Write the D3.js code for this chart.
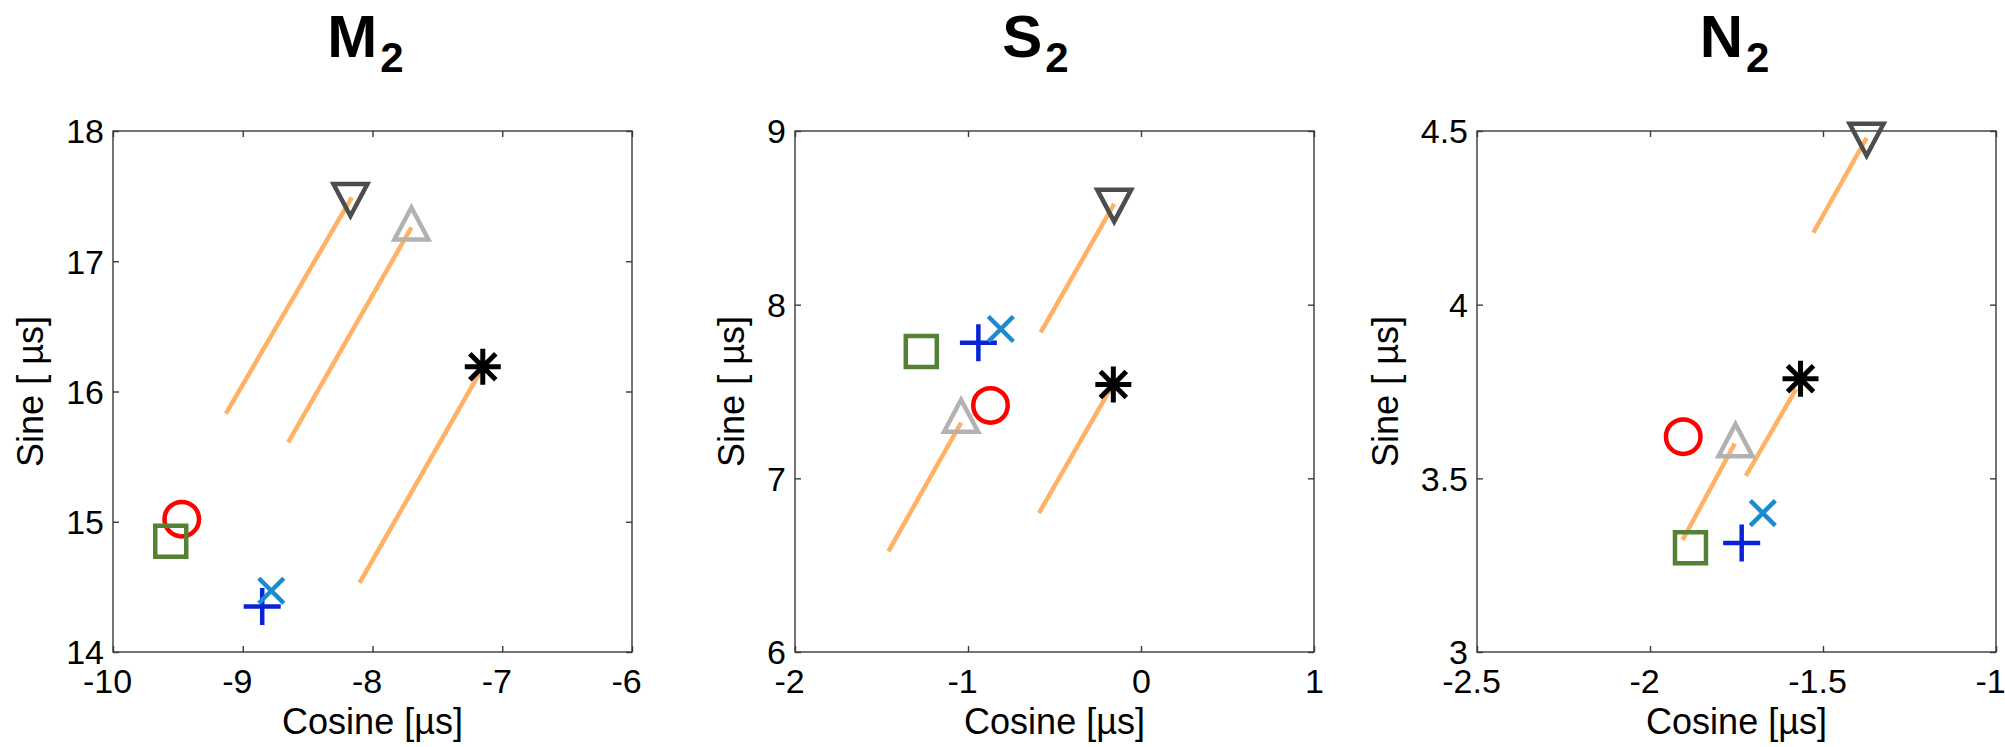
<!DOCTYPE html>
<html>
<head>
<meta charset="utf-8">
<script src="https://cdn.jsdelivr.net/npm/d3@7"></script>
<style>
  html, body { margin: 0; padding: 0; background: #fff; }
  text { font-family: "Liberation Sans", Arial, Helvetica, sans-serif; }
</style>
</head>
<body>
<script>
// ---------- data ----------
const titleMain = ["M", "S", "N"];
const titleSub  = ["2", "2", "2"];
const xLabel = "Cosine [\u00B5s]";
const yLabel = "Sine [ \u00B5s]";

const xDomains = [[-10, -6], [-2, 1], [-2.5, -1]];
const yDomains = [[14, 18], [6, 9], [3, 4.5]];
const xTicks = [[-10, -9, -8, -7, -6], [-2, -1, 0, 1], [-2.5, -2, -1.5, -1]];
const yTicks = [[14, 15, 16, 17, 18], [6, 7, 8, 9], [3, 3.5, 4, 4.5]];

// marker series: [x, y] per panel (M2, S2, N2)
const circleSeries   = [[-9.47, 15.02], [-0.87, 7.42], [-1.904, 3.62]];
const squareSeries   = [[-9.555, 14.85], [-1.27, 7.73], [-1.883, 3.30]];
const plusSeries     = [[-8.85, 14.35], [-0.94, 7.78], [-1.735, 3.314]];
const crossSeries    = [[-8.78, 14.47], [-0.81, 7.86], [-1.674, 3.40]];
const triUpSeries    = [[-7.70, 17.29], [-1.04, 7.36], [-1.753, 3.61]];
const triDownSeries  = [[-8.17, 17.47], [-0.155, 8.57], [-1.374, 4.475]];
const asteriskSeries = [[-7.15, 16.19], [-0.16, 7.54], [-1.565, 3.787]];

// orange segments per panel: [[x0, y0], [x1, y1]]
const segmentsM2 = [[[-9.13, 15.83], [-8.16, 17.49]], [[-8.65, 15.61], [-7.70, 17.26]], [[-8.10, 14.53], [-7.17, 16.15]]];
const segmentsS2 = [[[-0.58, 7.84], [-0.155, 8.58]], [[-0.59, 6.80], [-0.18, 7.51]], [[-1.46, 6.58], [-1.04, 7.32]]];
const segmentsN2 = [[[-1.528, 4.207], [-1.374, 4.48]], [[-1.723, 3.507], [-1.578, 3.757]], [[-1.906, 3.322], [-1.755, 3.60]]];
const segments = [segmentsM2, segmentsS2, segmentsN2];

// ---------- layout / style ----------
const W = 2005, H = 747;
const panelLeft0 = 113, panelStep = 682, panelW = 519;
const plotTop = 131, plotBottom = 652;
const titleDx = [-7, -19, -2];
const orange = "#FFB265";

const markers = [
  { data: circleSeries,   type: "circle",  color: "#FF0000" },
  { data: squareSeries,   type: "square",  color: "#548235" },
  { data: plusSeries,     type: "plus",    color: "#0A22D8" },
  { data: crossSeries,    type: "cross",   color: "#1A8BCE" },
  { data: triUpSeries,    type: "triUp",   color: "#B2B2B2" },
  { data: triDownSeries,  type: "triDown", color: "#4D4D4D" },
  { data: asteriskSeries, type: "star",    color: "#000000" }
];

function markerPath(type) {
  switch (type) {
    case "square": { const s = 15.5; return `M${-s},${-s}H${s}V${s}H${-s}Z`; }
    case "plus":   { const s = 18.5; return `M${-s},0H${s}M0,${-s}V${s}`; }
    case "cross":  { const s = 12.5; return `M${-s},${-s}L${s},${s}M${-s},${s}L${s},${-s}`; }
    case "triUp":  { const w = 17, h = 16; return `M0,${-h}L${w},${h}L${-w},${h}Z`; }
    case "triDown":{ const w = 17, h = 16; return `M0,${h}L${w},${-h}L${-w},${-h}Z`; }
    case "star":   { const s = 18, d = 13; return `M${-s},0H${s}M0,${-s}V${s}M${-d},${-d}L${d},${d}M${-d},${d}L${d},${-d}`; }
  }
}

const svg = d3.select("body").append("svg")
  .attr("width", W).attr("height", H)
  .style("display", "block");

for (let i = 0; i < 3; i++) {
  const left = panelLeft0 + i * panelStep;
  const right = left + panelW;
  const cx = (left + right) / 2;
  const x = d3.scaleLinear().domain(xDomains[i]).range([left, right]);
  const y = d3.scaleLinear().domain(yDomains[i]).range([plotBottom, plotTop]);
  const g = svg.append("g");

  // title
  const t = g.append("text")
    .attr("x", cx + titleDx[i]).attr("y", 56.5)
    .attr("text-anchor", "middle")
    .attr("font-weight", "bold")
    .attr("font-size", 60)
    .attr("fill", "#000");
  t.append("tspan").text(titleMain[i]);
  t.append("tspan").attr("font-size", 42).attr("dy", 15).attr("dx", 3).text(titleSub[i]);

  // axes
  const fmt = d => String(d);
  const axB = g.append("g").attr("transform", `translate(0,${plotBottom})`)
    .call(d3.axisBottom(x).tickValues(xTicks[i]).tickSize(-6).tickSizeOuter(0).tickPadding(17).tickFormat(fmt));
  const axT = g.append("g").attr("transform", `translate(0,${plotTop})`)
    .call(d3.axisTop(x).tickValues(xTicks[i]).tickSize(-6).tickSizeOuter(0).tickFormat(""));
  const axL = g.append("g").attr("transform", `translate(${left},0)`)
    .call(d3.axisLeft(y).tickValues(yTicks[i]).tickSize(-6).tickSizeOuter(0).tickPadding(9).tickFormat(fmt));
  const axR = g.append("g").attr("transform", `translate(${right},0)`)
    .call(d3.axisRight(y).tickValues(yTicks[i]).tickSize(-6).tickSizeOuter(0).tickFormat(""));
  [axB, axT, axL, axR].forEach(a => {
    a.select(".domain").remove();
    a.attr("color", "#3a3a3a");
    a.selectAll(".tick line").attr("stroke-width", 1.4);
    a.selectAll("text").attr("font-size", 34).attr("fill", "#000")
      .attr("font-family", "'Liberation Sans', Arial, sans-serif");
  });
  axL.selectAll("text").attr("dy", "0.35em");
  // negative labels: minus sign hangs to the left, digits centred on the tick
  axB.selectAll(".tick text").attr("dx", d => d < 0 ? -6 : 0);

  // frame
  g.append("rect")
    .attr("x", left).attr("y", plotTop)
    .attr("width", right - left).attr("height", plotBottom - plotTop)
    .attr("fill", "none").attr("stroke", "#3a3a3a").attr("stroke-width", 1.4);

  // labels
  let maxW = 0;
  axL.selectAll("text").each(function () { maxW = Math.max(maxW, this.getBBox().width); });
  g.append("text")
    .attr("transform", `translate(${left - 9 - maxW - 23},${(plotTop + plotBottom) / 2}) rotate(-90)`)
    .attr("text-anchor", "middle").attr("font-size", 36).attr("fill", "#000")
    .text(yLabel);
  g.append("text")
    .attr("x", cx).attr("y", 734)
    .attr("text-anchor", "middle").attr("font-size", 36).attr("fill", "#000")
    .text(xLabel);

  // orange segments
  g.selectAll(".seg").data(segments[i]).enter().append("line")
    .attr("class", "seg")
    .attr("x1", d => x(d[0][0])).attr("y1", d => y(d[0][1]))
    .attr("x2", d => x(d[1][0])).attr("y2", d => y(d[1][1]))
    .attr("stroke", orange).attr("stroke-width", 4.5);

  // markers
  markers.forEach(m => {
    const p = m.data[i];
    if (m.type === "circle") {
      g.append("circle")
        .attr("cx", x(p[0])).attr("cy", y(p[1])).attr("r", 17.25)
        .attr("fill", "none").attr("stroke", m.color).attr("stroke-width", 4.5);
    } else {
      g.append("path")
        .attr("transform", `translate(${x(p[0])},${y(p[1])})`)
        .attr("d", markerPath(m.type))
        .attr("fill", "none").attr("stroke", m.color)
        .attr("stroke-width", m.type === "star" ? 5 : 4.5)
        .attr("stroke-linejoin", "miter");
    }
  });
}
</script>
</body>
</html>
